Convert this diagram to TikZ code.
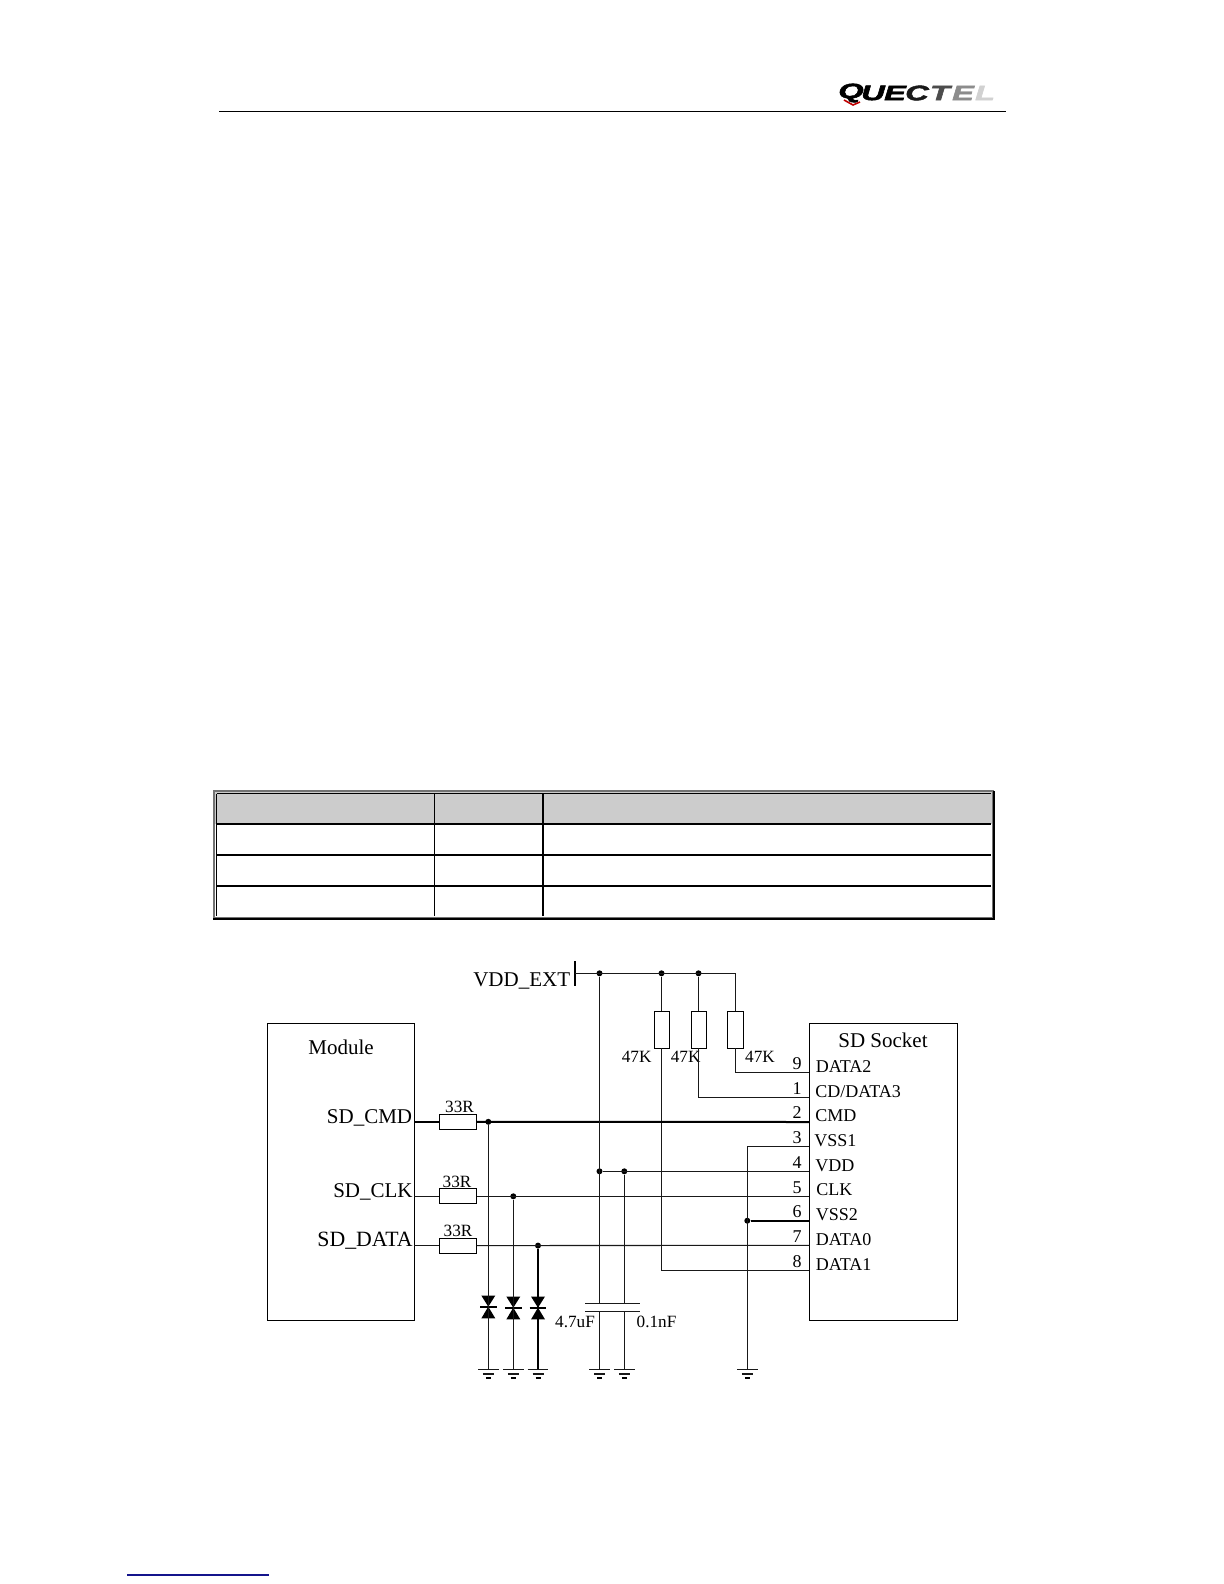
\documentclass[tikz,border=0pt]{standalone}
\usepackage{fontspec}
\setmainfont{Liberation Serif}
\newfontfamily\logofont[BoldItalicFeatures={FakeBold=2}]{Liberation Sans}
\usepackage{tikz}
\usetikzlibrary{
  calc
}
\definecolor{headgray}{gray}{0.8}
\definecolor{linknavy}{RGB}{20,20,140}
\newcommand{\pinfont}{\fontsize{9}{9}\selectfont}
\newcommand{\bigfont}{\fontsize{10.5}{10.5}\selectfont}

\begin{document}
\begin{tikzpicture}[
  x=0.5pt,y=-0.5pt,
  wire/.style={line width=0.55pt,black!90},
  thickwire/.style={line width=1pt,black},
  box/.style={draw,line width=0.55pt,rectangle,inner sep=0pt,outer sep=0pt,fill=white},
  hres/.style={box,minimum width=18.7pt,minimum height=7.5pt},
  vres/.style={box,minimum width=7.7pt,minimum height=18.5pt},
  junction/.style={circle,fill=black,inner sep=0pt,minimum size=3pt},
  smalllabel/.style={font=\fontsize{8.6}{8.6}\selectfont,inner sep=0pt},
  biglabel/.style={font=\bigfont,inner sep=0pt},
  pinlabel/.style={font=\pinfont,inner sep=0pt,anchor=west},
  pinnum/.style={font=\pinfont,inner sep=0pt},
]
\useasboundingbox (0,0) rectangle (1224,1584);
\fill[white] (0,0) rectangle (1224,1584);

\coordinate (headl) at (219,111.5);
\coordinate (headr) at (1006,111.5);
\draw[line width=0.45pt] (headl) -- (headr);
\foreach \lx/\ly/\lc in {851/Q/black,873/U/black,895/E/black,917/C/black!90,940/T/black!70,963/E/black!45,985/L/black!18}{
  \node[inner sep=0pt,text=\lc,font=\logofont\bfseries\itshape\fontsize{10.5}{10.5}\selectfont] (logo\lx) at (\lx,93) {\scalebox{1.55}[1]{\ly}};
}
\draw[red!75!black,line width=0.8pt] (844,100) -- (853,105) -- (860,102);

\fill[headgray] (214,791) rectangle (993,824);
\draw[black!55,line width=1.2pt] (214,791) rectangle (993,918);
\draw[black,line width=0.6pt] (216.5,793.5) -- (216.5,916);
\draw[black,line width=0.6pt] (216.5,793.5) -- (990.5,793.5);
\draw[black,line width=0.7pt] (216,824) -- (990.5,824);
\draw[black,line width=1.1pt] (216,855) -- (990.5,855);
\draw[black,line width=1.1pt] (216,886) -- (990.5,886);
\draw[black,line width=0.4pt] (434,793) -- (434,916);
\draw[black,line width=0.8pt] (543,793) -- (543,916);
\draw[black,line width=0.6pt] (213,919) -- (994,919) -- (994,791);

\node[box,minimum width=73.5pt,minimum height=148.5pt] (module) at (340.8,1171.8) {};
\node[box,minimum width=74.2pt,minimum height=148.5pt] (socket) at (883.5,1171.8) {};
\node[biglabel] (modulelabel) at (341,1047) {Module};
\node[biglabel] (socketlabel) at (883,1040) {SD Socket};

\node[biglabel,anchor=east] (cmdlabel) at (412.5,1118) {SD\_CMD};
\node[biglabel,anchor=east] (clklabel) at (413,1192) {SD\_CLK};
\node[biglabel,anchor=east,font=\fontsize{10.9}{10.9}\selectfont] (datalabel) at (413,1241) {SD\_DATA};

\node[hres] (rcmd) at (458,1121.8) {};
\node[hres] (rclk) at (458,1196.3) {};
\node[hres] (rdata) at (458,1245.6) {};
\node[smalllabel] (rcmdlabel) at (459.5,1107) {33R};
\node[smalllabel] (rclklabel) at (457,1182) {33R};
\node[smalllabel] (rdatalabel) at (458,1231) {33R};

\foreach \pname/\py/\pnum/\ptext/\px/\pt in {
  nine/1072.3/9/DATA2/815.5/5.5,
  one/1097.3/1/CD\slash DATA3/815/5.5,
  two/1122/2/CMD/815/6.5,
  three/1146.3/3/VSS1/814/5.5,
  four/1171.3/4/VDD/815/5.5,
  five/1196.3/5/CLK/816/6.5,
  six/1220.7/6/VSS2/815.5/6.5,
  seven/1245.3/7/DATA0/815.5/5.5,
  eight/1270.3/8/DATA1/815.5/5.5}{
  \coordinate (pin\pname) at (809.3,\py);
  \node[pinnum] (num\pname) at (797,\py-9) {\pnum};
  \node[pinlabel] (label\pname) at (\px,\py-\pt) {\ptext};
}

\node[biglabel,anchor=east] (vddlabel) at (570.5,981) {VDD\_EXT};
\coordinate (vddtop) at (575,961);
\coordinate (vddbot) at (575,986);
\coordinate (vdd) at (575,973.3);
\draw[line width=1pt] (vddtop) -- (vddbot);
\coordinate (railcorner) at (735.5,973.3);
\node[junction] (jcap) at (599.5,973.3) {};
\node[junction] (jra) at (661.5,973.3) {};
\node[junction] (jrb) at (698.5,973.3) {};
\draw[wire] (vdd) -- (railcorner);

\node[vres] (ra) at (662,1029.8) {};
\node[vres] (rb) at (699,1029.8) {};
\node[vres] (rc) at (735.5,1029.8) {};
\node[smalllabel] (ralabel) at (636.7,1056.7) {47K};
\node[smalllabel] (rblabel) at (685.7,1056.7) {47K};
\node[smalllabel] (rclabel) at (760,1056.7) {47K};

\draw[wire] (jra) -- (jra|-ra.north);
\draw[wire] (jrb) -- (jrb|-rb.north);
\draw[wire] (railcorner) -- (rc.north);
\draw[wire] (rc.south) |- (pinnine);
\draw[wire] (jrb|-rb.south) |- (pinone);
\draw[wire] (jra|-ra.south) |- (pineight);

\node[junction] (jcmd) at (488.3,1121.8) {};
\node[junction] (jclk) at (513.3,1196.3) {};
\node[junction] (jdata) at (538,1245.6) {};
\draw[thickwire] (module.east|-rcmd) -- (rcmd.west);
\draw[thickwire] (rcmd.east) -- (pintwo);
\draw[wire] (module.east|-rclk) -- (rclk.west);
\draw[wire] (rclk.east) -- (pinfive);
\draw[wire] (module.east|-rdata) -- (rdata.west);
\draw[wire] (rdata.east) -- (pinseven);

\coordinate (capl) at (585,1303.3);
\coordinate (capr) at (639.5,1303.3);
\coordinate (capll) at (585,1311.3);
\coordinate (caplr) at (639.5,1311.3);
\draw[wire] (capl) -- (capr);
\draw[wire] (capll) -- (caplr);
\node[junction] (jvdda) at (599.5,1171.3) {};
\node[junction] (jvddb) at (624.3,1171.3) {};
\draw[wire] (jcap) -- (jcap|-capl);
\draw[wire] (jvddb) -- (jvddb|-capl);
\draw[wire] (jvdda) -- (pinfour);
\node[smalllabel] (capalabel) at (575,1322) {4.7uF};
\node[smalllabel] (capblabel) at (656.5,1322) {0.1nF};

\foreach \gname/\gx in {gcmd/488.3,gclk/513.3,gdata/538,gcapa/599.5,gcapb/624.3,gsock/747.3}{
  \coordinate (\gname) at (\gx,1369.3);
  \draw[wire] ($(\gname)+(-10.3,0)$) -- ($(\gname)+(10.3,0)$);
  \draw[wire] ($(\gname)+(-5.5,4.7)$) -- ($(\gname)+(5.5,4.7)$);
  \draw[line width=0.9pt] ($(\gname)+(-2.5,8.7)$) -- ($(\gname)+(2.5,8.7)$);
}
\draw[wire] (jcap|-capll) -- (gcapa);
\draw[wire] (jvddb|-capll) -- (gcapb);

\foreach \dname/\dx/\dy/\dtop/\dwire in {dcmd/488.3/1306.7/jcmd/wire,dclk/513.3/1307.7/jclk/wire,ddata/538/1307.7/jdata/thickwire}{
  \coordinate (\dname) at (\dx,\dy);
  \fill ($(\dname)+(-7,-11.2)$) -- ($(\dname)+(7,-11.2)$) -- (\dname) -- cycle;
  \fill ($(\dname)+(-7,11.7)$) -- ($(\dname)+(7,11.7)$) -- (\dname) -- cycle;
  \draw[line width=0.8pt] ($(\dname)+(-8.3,0)$) -- ($(\dname)+(8.3,0)$);
  \draw[\dwire] (\dtop) -- (\dname);
}
\draw[wire] (dcmd) -- (gcmd);
\draw[wire] (dclk) -- (gclk);
\draw[thickwire] (ddata) -- (gdata);

\coordinate (pingnd) at (747.3,1146.3);
\node[junction] (jgnd) at (747.3,1220.7) {};
\draw[wire] (pinthree) -- (pingnd) -- (gsock);
\draw[thickwire] (jgnd) -- (pinsix);

\coordinate (linkl) at (127,1575);
\coordinate (linkr) at (269,1575);
\draw[linknavy,line width=0.6pt] (linkl) -- (linkr);
\end{tikzpicture}
\end{document}
